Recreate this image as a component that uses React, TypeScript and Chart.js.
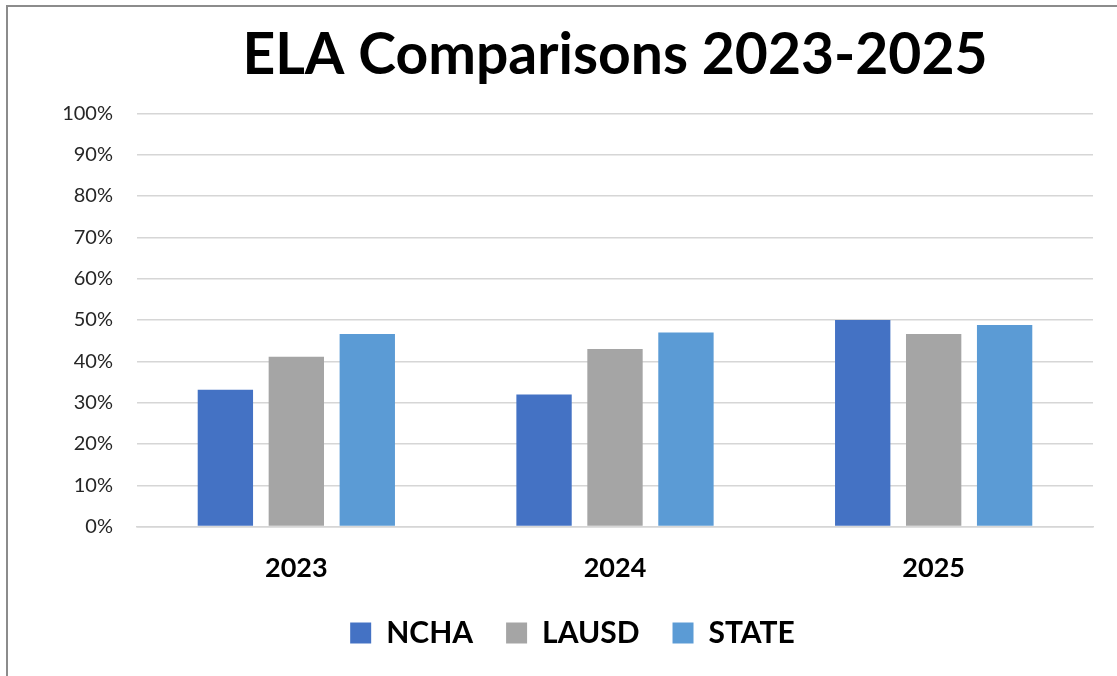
import React, { useEffect, useRef } from "react";
import { Chart, registerables } from "chart.js";

Chart.register(...registerables);

const titleText = "ELA Comparisons 2023-2025";
const categories = ["2023", "2024", "2025"];
const seriesNames = ["NCHA", "LAUSD", "STATE"];
const nchaValues = [33.1, 32.0, 50.0];
const lausdValues = [41.1, 43.0, 46.6];
const stateValues = [46.6, 47.0, 48.8];
const yMin = 0;
const yMax = 100;
const yStep = 10;

const seriesColors = ["#4472C4", "#A5A5A5", "#5B9BD5"];
const FONT = "Lato";

export default function App() {
  const canvasRef = useRef<HTMLCanvasElement | null>(null);

  useEffect(() => {
    const canvas = canvasRef.current;
    if (!canvas) return;
    const seriesValues = [nchaValues, lausdValues, stateValues];
    const chart = new Chart(canvas, {
      type: "bar",
      data: {
        labels: categories,
        datasets: seriesNames.map((name, i) => ({
          label: name,
          data: seriesValues[i],
          backgroundColor: seriesColors[i],
          borderWidth: 0,
          categoryPercentage: 0.668,
          barPercentage: 0.78,
        })),
      },
      options: {
        responsive: false,
        animation: false,
        devicePixelRatio: 1,
        layout: { padding: { left: 44, right: 24, top: 0, bottom: 49 } },
        plugins: {
          title: {
            display: true,
            text: titleText,
            fullSize: false,
            color: "#000000",
            font: { family: FONT, size: 57, weight: "bold" },
            padding: { top: 14, bottom: 24 },
          },
          legend: {
            position: "bottom",
            labels: {
              boxWidth: 21,
              boxHeight: 21,
              padding: 33,
              color: "#000000",
              font: { family: FONT, size: 30, weight: "bold" },
            },
          },
          tooltip: { enabled: false },
        },
        scales: {
          x: {
            grid: { display: false, drawTicks: false },
            border: { display: true, color: "#d6d6d6", width: 1.5 },
            ticks: {
              color: "#000000",
              font: { family: FONT, size: 27, weight: "bold" },
              padding: 25,
            },
            afterFit: (scale: any) => {
              scale.height = scale.height - 24;
            },
          },
          y: {
            min: yMin,
            max: yMax,
            ticks: {
              stepSize: yStep,
              callback: (v: any) => `${v}%`,
              color: "#262626",
              font: { family: FONT, size: 20 },
              padding: 24,
            },
            grid: { color: "#d6d6d6", lineWidth: 1.5, drawTicks: false },
            border: { display: false },
            afterFit: (scale: any) => {
              scale.width = 85;
            },
          },
        },
      },
    });
    return () => chart.destroy();
  }, []);

  return (
    <div
      style={{
        position: "fixed",
        left: 0,
        top: 0,
        width: 1117,
        height: 676,
        overflow: "hidden",
        background: "#ffffff",
      }}
    >
      <div
        style={{
          position: "absolute",
          left: 6,
          top: 5,
          width: 1200,
          height: 720,
          border: "2px solid #8c8c8c",
          background: "#ffffff",
        }}
      >
        <canvas
          ref={canvasRef}
          width={1109}
          height={700}
          style={{ display: "block", width: 1109, height: 700 }}
        />
      </div>
    </div>
  );
}
